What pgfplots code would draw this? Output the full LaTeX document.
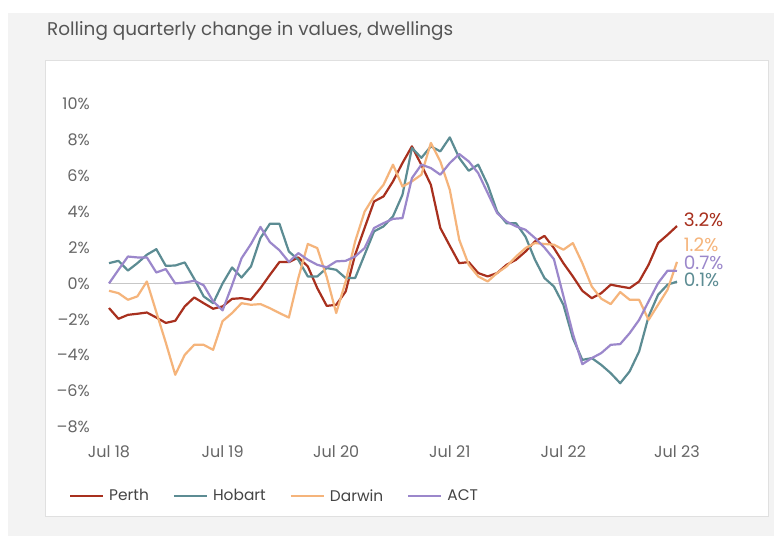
\documentclass[border=0pt]{standalone}
\usepackage{fontspec}
\setmainfont{Poppins}
\usepackage{pgfplots}
\usepackage{pgfplotstable}
\pgfplotsset{compat=1.18}
\definecolor{perth}{HTML}{A8301E}
\definecolor{hobart}{HTML}{5C8C93}
\definecolor{darwin}{HTML}{F5B47B}
\definecolor{act}{HTML}{9B87CB}
\definecolor{bggray}{HTML}{F3F3F3}
\definecolor{panelborder}{HTML}{E0E0E0}
\definecolor{ticktext}{HTML}{666666}
\definecolor{titletext}{HTML}{555555}
\definecolor{legtext}{HTML}{444444}

\pgfplotstableread{
i perth hobart darwin act
0 -1.37 1.13 -0.41 0.00
1 -1.97 1.26 -0.54 0.76
2 -1.75 0.72 -0.91 1.50
3 -1.69 1.13 -0.72 1.45
4 -1.62 1.60 0.11 1.45
5 -1.90 1.91 -1.60 0.61
6 -2.20 0.98 -3.30 0.80
7 -2.08 1.00 -5.09 0.00
8 -1.28 1.17 -3.98 0.05
9 -0.78 0.26 -3.42 0.15
10 -1.10 -0.72 -3.42 -0.10
11 -1.41 -1.10 -3.70 -1.00
12 -1.28 0.00 -2.10 -1.50
13 -0.86 0.89 -1.65 -0.10
14 -0.82 0.33 -1.10 1.40
15 -0.91 0.95 -1.19 2.20
16 -0.26 2.53 -1.15 3.15
17 0.48 3.33 -1.38 2.30
18 1.19 3.33 -1.65 1.85
19 1.19 1.78 -1.90 1.20
20 1.45 1.32 0.30 1.69
21 0.95 0.39 2.20 1.32
22 -0.26 0.39 1.97 1.04
23 -1.25 0.86 0.35 0.90
24 -1.19 0.76 -1.65 1.23
25 -0.45 0.30 0.11 1.26
26 1.60 0.30 2.34 1.50
27 3.09 1.60 4.00 1.97
28 4.57 2.90 4.85 3.09
29 4.85 3.18 5.50 3.36
30 5.69 3.74 6.62 3.60
31 6.71 4.94 5.40 3.64
32 7.64 7.55 5.69 5.87
33 6.60 7.00 6.06 6.62
34 5.50 7.64 7.83 6.43
35 3.09 7.36 6.80 6.06
36 2.10 8.14 5.22 6.71
37 1.13 6.99 2.43 7.21
38 1.19 6.28 1.04 6.80
39 0.58 6.62 0.39 6.15
40 0.39 5.50 0.11 5.04
41 0.58 4.00 0.58 3.92
42 1.04 3.35 0.95 3.45
43 1.32 3.35 1.50 3.18
44 1.78 2.60 1.97 2.99
45 2.34 1.32 2.25 2.53
46 2.65 0.30 2.20 2.00
47 1.97 -0.17 2.16 1.35
48 1.13 -1.19 1.88 -0.70
49 0.39 -3.05 2.25 -2.80
50 -0.41 -4.26 1.13 -4.50
51 -0.82 -4.16 -0.17 -4.16
52 -0.54 -4.54 -0.85 -3.88
53 -0.07 -5.00 -1.15 -3.42
54 -0.17 -5.56 -0.48 -3.38
55 -0.26 -4.90 -0.91 -2.77
56 0.11 -3.79 -0.91 -2.03
57 1.04 -1.84 -2.03 -1.00
58 2.25 -0.63 -1.19 0.02
59 2.71 -0.07 -0.35 0.71
60 3.20 0.10 1.20 0.70
}\data

\begin{document}
\begin{tikzpicture}
\useasboundingbox (0pt,0pt) rectangle (774pt,536pt);
\fill[white] (0pt,0pt) rectangle (774pt,536pt);
\fill[bggray] (8pt,0pt) rectangle (774pt,523pt);
\filldraw[fill=white, draw=panelborder, line width=1pt] (45pt,20pt) rectangle (768pt,475pt);
\node[anchor=base west, inner sep=0pt, text=titletext, font=\fontsize{18.4}{21}\selectfont] at (47pt,500pt) {Rolling quarterly change in values, dwellings};
\begin{axis}[
  at={(109pt,109pt)}, anchor=south west,
  scale only axis, width=568pt, height=323pt,
  xmin=0, xmax=60, ymin=-8, ymax=10,
  axis line style={draw=none},
  major tick length=0pt,
  xtick={0,12,24,36,48,60},
  xticklabels={Jul 18,Jul 19,Jul 20,Jul 21,Jul 22,Jul 23},
  ytick={-8,-6,-4,-2,0,2,4,6,8,10},
  yticklabels={\textendash8\%,\textendash6\%,\textendash4\%,\textendash2\%,0\%,2\%,4\%,6\%,8\%,10\%},
  ticklabel style={font=\fontsize{16}{18}\selectfont, text=ticktext},
  yticklabel style={anchor=east, inner sep=0pt, xshift=-19pt},
  xticklabel style={anchor=north, inner sep=0pt, yshift=-18pt},
  clip=false,
  legend columns=4,
  legend style={draw=none, fill=none, at={(-0.0704,-0.2136)}, anchor=west,
    inner sep=0pt, outer sep=0pt,
    nodes={inner sep=0pt, text=legtext, font=\fontsize{15.4}{17}\selectfont},
    /tikz/every odd column/.append style={column sep=5pt},
    /tikz/every even column/.append style={column sep=24pt}},
  legend image code/.code={\draw[#1] (0pt,0pt) -- (33pt,0pt);},
]
\draw[black!22, line width=0.8pt] (axis cs:0,0) -- (axis cs:60,0);
\addplot[perth, line width=2.2pt, line join=round] table[x=i,y=perth]{\data};
\addlegendentry{Perth}
\addplot[hobart, line width=2.2pt, line join=round] table[x=i,y=hobart]{\data};
\addlegendentry{Hobart}
\addplot[darwin, line width=2.2pt, line join=round] table[x=i,y=darwin]{\data};
\addlegendentry{Darwin}
\addplot[act, line width=2.2pt, line join=round] table[x=i,y=act]{\data};
\addlegendentry{ACT}
\node[anchor=west, inner sep=0pt, text=perth, font=\fontsize{18.5}{20}\selectfont] at (axis cs:60.7,3.57) {3.2\%};
\node[anchor=west, inner sep=0pt, text=darwin, font=\fontsize{18.5}{20}\selectfont] at (axis cs:60.7,2.17) {1.2\%};
\node[anchor=west, inner sep=0pt, text=act, font=\fontsize{18.5}{20}\selectfont] at (axis cs:60.7,1.17) {0.7\%};
\node[anchor=west, inner sep=0pt, text=hobart, font=\fontsize{18.5}{20}\selectfont] at (axis cs:60.7,0.22) {0.1\%};
\end{axis}
\end{tikzpicture}
\end{document}
